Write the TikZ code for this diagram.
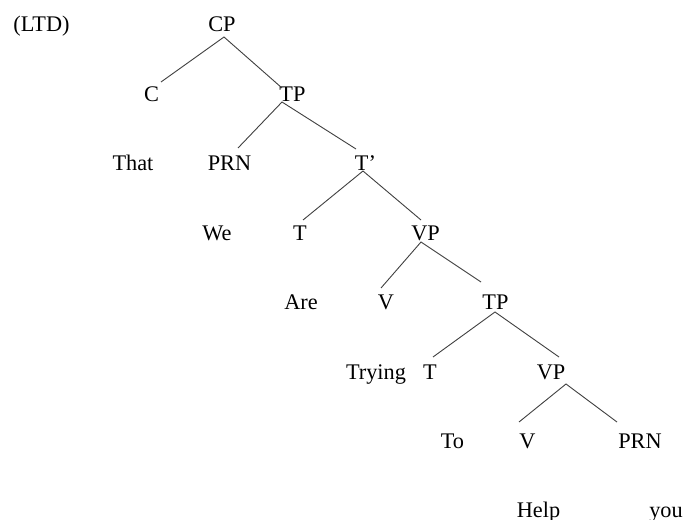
\documentclass[tikz,border=0pt]{standalone}
\usepackage{fontspec}
\setmainfont{Liberation Serif}
\begin{document}
\begin{tikzpicture}[x=1pt,y=-1pt,
  lab/.style={anchor=base,inner sep=0pt,font=\fontsize{22.3}{25}\selectfont},
  edge/.style={draw=black!75,line width=0.9pt}]
\useasboundingbox[fill=white] (0,0) rectangle (684,519);
% labels
\node[lab] (ltd) at (41.5,32) {(LTD)};
\node[lab] (cp) at (222,32) {CP};
\node[lab] (c) at (151.5,101.4) {C};
\node[lab] (tp1) at (292.5,101.4) {TP};
\node[lab] (that) at (133,170.8) {That};
\node[lab] (prn1) at (229.5,170.8) {PRN};
\node[lab] (tbar) at (365.5,170.8) {T’};
\node[lab] (we) at (217,240.2) {We};
\node[lab] (t1) at (300,240.2) {T};
\node[lab] (vp1) at (425.5,240.2) {VP};
\node[lab] (are) at (301,309.6) {Are};
\node[lab] (v1) at (386,309.6) {V};
\node[lab] (tp2) at (495.5,309.6) {TP};
\node[lab] (trying) at (376,379) {Trying};
\node[lab] (t2) at (430,379) {T};
\node[lab] (vp2) at (551,379) {VP};
\node[lab] (to) at (452.5,448.4) {To};
\node[lab] (v2) at (527.5,448.4) {V};
\node[lab] (prn2) at (640,448.4) {PRN};
\node[lab] (help) at (538.5,517.8) {Help};
\node[lab] (you) at (666,517.8) {you};
% branches
\draw[edge] ([shift={(9.5,-19.4)}]c.base) -- ([shift={(2,5)}]cp.base) -- ([shift={(-10.5,-13.4)}]tp1.base);
\draw[edge] ([shift={(8.5,-22.8)}]prn1.base) -- ([shift={(-10.5,0.6)}]tp1.base) -- ([shift={(-9.5,-21.8)}]tbar.base);
\draw[edge] ([shift={(3,-20.2)}]t1.base) -- ([shift={(-2.5,0.2)}]tbar.base) -- ([shift={(-4.5,-20.2)}]vp1.base);
\draw[edge] ([shift={(-5,-21.6)}]v1.base) -- ([shift={(-4.5,1.8)}]vp1.base) -- ([shift={(-14.5,-27.6)}]tp2.base);
\draw[edge] ([shift={(3,-22)}]t2.base) -- ([shift={(-0.5,2.4)}]tp2.base) -- ([shift={(8,-22)}]vp2.base);
\draw[edge] ([shift={(-8.5,-26.4)}]v2.base) -- ([shift={(15,5)}]vp2.base) -- ([shift={(-23,-26.4)}]prn2.base);
\end{tikzpicture}
\end{document}
